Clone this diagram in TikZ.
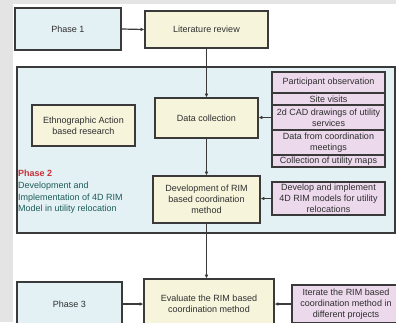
\documentclass[tikz,border=0pt]{standalone}
\usepackage{fontspec}
\setmainfont{Liberation Sans}
\usetikzlibrary{arrows.meta}
\definecolor{bgray}{HTML}{E4E4E4}
\definecolor{blu}{HTML}{E3F1F4}
\definecolor{yel}{HTML}{F7F4DC}
\definecolor{pnk}{HTML}{ECD9EC}
\definecolor{edge}{HTML}{3A3A3A}
\definecolor{txt}{HTML}{2E2E2E}
\definecolor{teal2}{HTML}{1E5C5A}
\definecolor{red2}{HTML}{C8323C}
\tikzset{
  bx/.style={draw=edge, line width=1.3pt, rectangle, inner sep=1pt, align=center,
    text=txt, font=\fontsize{9}{11}\selectfont},
  row/.style={bx, fill=pnk, minimum width=113pt, line width=1.1pt},
  arr/.style={draw=edge, line width=1.2pt, -{Latex[length=3.8pt,width=3.8pt]}},
}
\begin{document}
\begin{tikzpicture}[x=1pt,y=-1pt]
\useasboundingbox (0,0) rectangle (396,322);
\clip (0,0) rectangle (396,322);
\fill[white] (0,0) rectangle (396,322);
\fill[bgray] (0,0) rectangle (13,322);
\fill[bgray] (0,0) rectangle (396,4);

\node[bx, fill=blu, minimum width=106pt, minimum height=42pt] (p1) at (68,29) {Phase 1};
\node[bx, fill=yel, minimum width=123pt, minimum height=37pt] (lit) at (206.5,29.5) {Literature review};

\node[bx, fill=blu, minimum width=378pt, minimum height=166pt] (c2) at (206,150) {};

\node[bx, fill=yel, minimum width=103pt, minimum height=40pt] (data) at (206.5,118) {Data collection};
\node[bx, fill=yel, minimum width=103pt, minimum height=41pt] (eth) at (83.5,125.5) {Ethnographic Action\\based research};
\node[bx, fill=yel, minimum width=107pt, minimum height=47pt] (dev) at (206.5,199.5) {Development of RIM\\based coordination\\method};

\node[row, minimum height=21pt] (r1) at (328.5,82.5) {Participant observation};
\node[row, minimum height=12pt] (r2) at (328.5,99) {Site visits};
\node[row, minimum height=25pt] (r3) at (328.5,117.5) {2d CAD drawings of utility\\services};
\node[row, minimum height=25pt] (r4) at (328.5,142.5) {Data from coordination\\meetings};
\node[row, minimum height=12pt] (r5) at (328.5,161) {Collection of utility maps};

\node[row, minimum height=33pt] (d4) at (328.5,198.5) {Develop and implement\\4D RIM models for utility\\relocations};

\node[anchor=north west, align=left, inner sep=0pt, font=\fontsize{9}{11.7}\selectfont, text=teal2] (ph2) at (18,170)
  {\textcolor{red2}{\textbf{Phase 2}}\\Development and\\Implementation of 4D RIM\\Model in utility relocation};

\node[bx, fill=blu, minimum width=105pt, minimum height=44pt] (p3) at (69.5,304) {Phase 3};
\node[bx, fill=yel, minimum width=130pt, minimum height=50pt] (ev) at (209,304) {Evaluate the RIM based\\coordination method};
\node[row, minimum width=108pt, minimum height=38pt] (it) at (346,304) {Iterate the RIM based\\coordination method in\\different projects};

\draw[arr] (p1.east) -- (lit.west);
\draw[arr] (lit.south) -- (data.north);
\draw[arr] (data.south) -- (dev.north);
\draw[arr] (r3.west) -- (r3.west -| data.east);
\draw[arr] (d4.west) -- (d4.west -| dev.east);
\draw[arr] (dev.south) -- (dev.south |- ev.north);
\draw[arr] (p3.east) -- (p3.east -| ev.west);
\draw[arr] (it.west) -- (it.west -| ev.east);
\end{tikzpicture}
\end{document}
